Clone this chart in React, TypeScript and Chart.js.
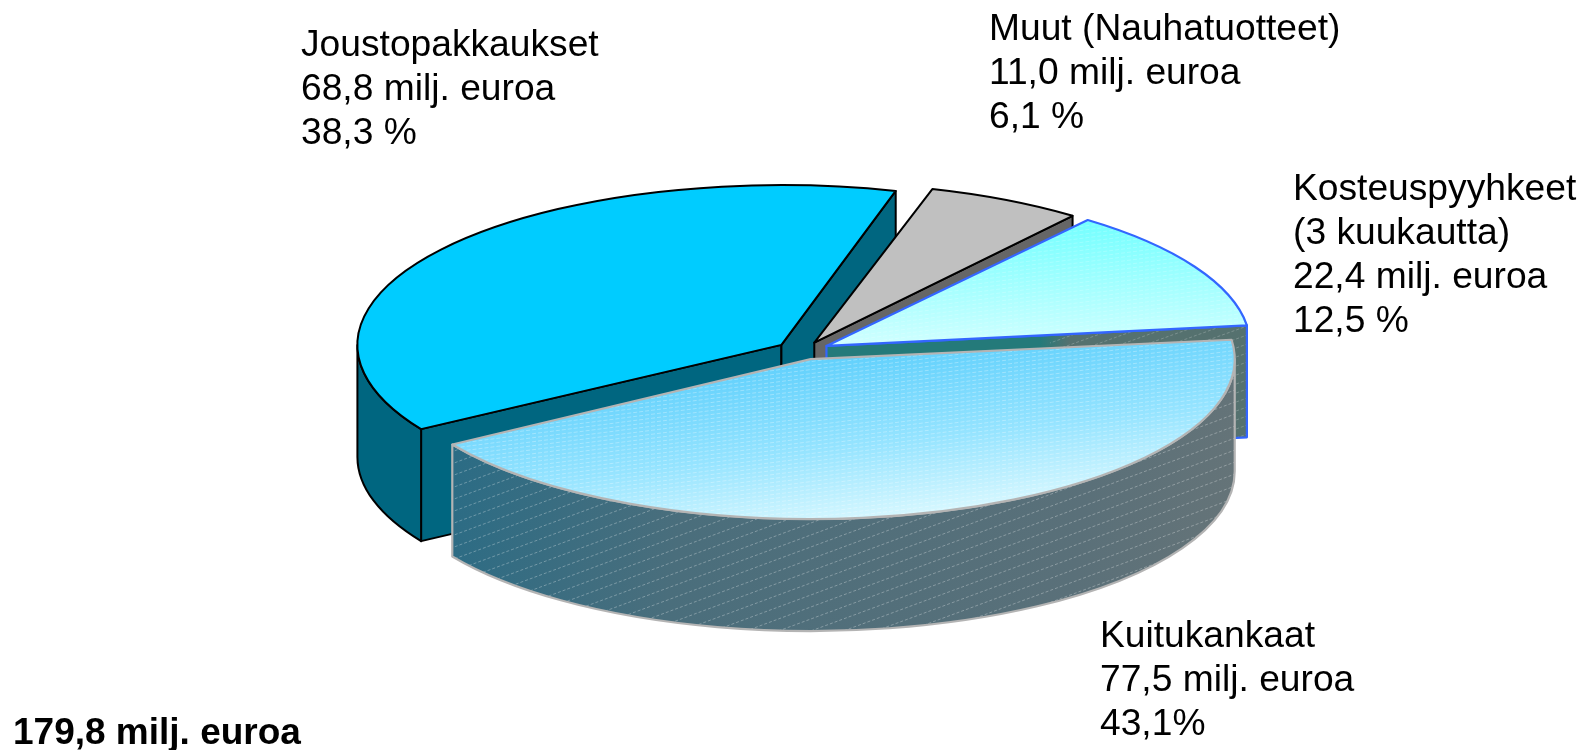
import React, { useEffect, useRef } from "react";
import { Chart, registerables } from "chart.js";

Chart.register(...registerables);

const categories = ["Joustopakkaukset", "Muut (Nauhatuotteet)", "Kosteuspyyhkeet", "Kuitukankaat"];
const values = [68.8, 11.0, 22.4, 77.5];
const labelTexts = [
  ["Joustopakkaukset", "68,8 milj. euroa", "38,3 %"],
  ["Muut (Nauhatuotteet)", "11,0 milj. euroa", "6,1 %"],
  ["Kosteuspyyhkeet", "(3 kuukautta)", "22,4 milj. euroa", "12,5 %"],
  ["Kuitukankaat", "77,5 milj. euroa", "43,1%"],
];
const totalText = "179,8 milj. euroa";

const labelAnchors = [
  [301, 56],
  [989, 40],
  [1293, 200],
  [1100, 647],
];
const LINE_H = 44;
const FONT = '"Liberation Sans", Arial, sans-serif';

const SQUASH = 0.377;
const DEPTH = 112;
const CY = 351;
const RADIUS = 424;
const sliceOffsets = [27, 25, 27, 23];

const outlineColors = ["#000000", "#000000", "#3366FF", "#B4B4B4"];
const outlineWidths = [2, 2, 2.2, 2.2];
const sideColors = ["#006680", "#666666", "#247A7A", "#53707A"];

function toChartY(y: number) {
  return CY + (y - CY) / SQUASH;
}

function hatch(ctx: CanvasRenderingContext2D, slope: number, gap: number, color: string, dash: number[]) {
  ctx.strokeStyle = color;
  ctx.lineWidth = 1;
  ctx.setLineDash(dash);
  for (let y = 100; y < 1700; y += gap) {
    ctx.beginPath();
    ctx.moveTo(300, y);
    ctx.lineTo(1300, y + slope * 1000);
    ctx.stroke();
  }
  ctx.setLineDash([]);
}

const pie3d = {
  id: "pie3d",
  beforeDatasetsDraw(chart: any) {
    const ctx: CanvasRenderingContext2D = chart.ctx;
    const arcs = chart.getDatasetMeta(0).data as any[];
    arcs.forEach((arc, i) => {
      const off = (arc.options.offset || 0) / 4;
      const mid = (arc.startAngle + arc.endAngle) / 2;
      const grow = off * (1 - Math.sin(Math.min(Math.PI, arc.circumference)));
      const base = arc.outerRadius;
      const R = RADIUS;
      const inset = grow / (2 * Math.PI * R);
      const a0 = arc.startAngle + inset;
      const a1 = arc.endAngle - inset;
      const tx = arc.x + Math.cos(mid) * off;
      const ty = CY + (arc.y - CY + Math.sin(mid) * off) * SQUASH;
      const ry = R * SQUASH;
      const pt = (a: number) => [tx + R * Math.cos(a), ty + ry * Math.sin(a)];
      const outline = outlineColors[i];
      const lw = outlineWidths[i];

      ctx.save();
      ctx.lineJoin = "round";
      ctx.strokeStyle = outline;
      ctx.lineWidth = lw;

      // straight cut faces that turn towards the viewer
      const face = (a: number) => {
        const [px, py] = pt(a);
        ctx.beginPath();
        ctx.moveTo(tx, ty);
        ctx.lineTo(px, py);
        ctx.lineTo(px, py + DEPTH);
        ctx.lineTo(tx, ty + DEPTH);
        ctx.closePath();
      };
      const faces: number[] = [];
      if (Math.cos(a0) < 0) faces.push(a0);
      if (Math.cos(a1) > 0) faces.push(a1);
      faces.forEach((a) => {
        face(a);
        ctx.fillStyle = sideColors[i];
        if (i === 2) {
          const g = ctx.createLinearGradient(1040, 0, 1070, 0);
          g.addColorStop(0, "#247A7A");
          g.addColorStop(1, "#55716F");
          ctx.fillStyle = g;
        }
        ctx.fill();
        if (i === 2) {
          ctx.save();
          face(a);
          ctx.clip();
          ctx.beginPath();
          ctx.rect(1050, 300, 220, 160);
          ctx.clip();
          hatch(ctx, -0.36, 9, "rgba(255,255,255,0.22)", [3, 2]);
          ctx.restore();
        }
        face(a);
        ctx.stroke();
      });

      // curved outer wall, front half only
      [0, 2 * Math.PI].forEach((turn) => {
        const b0 = Math.max(a0 + turn, 0);
        const b1 = Math.min(a1 + turn, Math.PI);
        if (b1 <= b0) return;
        const wall = () => {
          ctx.beginPath();
          ctx.ellipse(tx, ty, R, ry, 0, b0, b1);
          ctx.ellipse(tx, ty + DEPTH, R, ry, 0, b1, b0, true);
          ctx.closePath();
        };
        wall();
        if (i === 3) {
          const g = ctx.createLinearGradient(453, 440, 1237, 560);
          g.addColorStop(0, "#2B6C85");
          g.addColorStop(0.3, "#4A6E7C");
          g.addColorStop(0.8, "#5A7079");
          g.addColorStop(1, "#667478");
          ctx.fillStyle = g;
        } else {
          ctx.fillStyle = sideColors[i];
        }
        ctx.fill();
        if (i === 3) {
          ctx.save();
          wall();
          ctx.clip();
          hatch(ctx, -0.37, 12, "rgba(255,255,255,0.3)", [3, 2]);
          ctx.restore();
        }
        wall();
        ctx.stroke();
      });

      // top face: the library's own arc, under a squashing transform.
      // The arc widens itself by `grow` when exploded, so it is drawn that much smaller.
      ctx.save();
      ctx.translate(0, CY);
      ctx.scale(1, SQUASH);
      ctx.translate(0, -CY);
      arc.outerRadius = base - grow;
      arc.draw(ctx);
      arc.outerRadius = base;
      ctx.restore();

      const topPath = () => {
        ctx.beginPath();
        ctx.moveTo(tx, ty);
        const [sx, sy] = pt(a0);
        ctx.lineTo(sx, sy);
        ctx.ellipse(tx, ty, R, ry, 0, a0, a1);
        ctx.closePath();
      };
      if (i >= 2) {
        ctx.save();
        topPath();
        ctx.clip();
        hatch(ctx, -0.13, 4, i === 3 ? "rgba(255,255,255,0.3)" : "rgba(255,255,255,0.2)", [4, 2]);
        ctx.restore();
      }
      ctx.strokeStyle = outline;
      ctx.lineWidth = lw;
      topPath();
      ctx.stroke();
      ctx.restore();
    });
    return false;
  },
  afterDraw(chart: any) {
    const ctx: CanvasRenderingContext2D = chart.ctx;
    ctx.save();
    ctx.fillStyle = "#000000";
    ctx.textAlign = "left";
    ctx.textBaseline = "alphabetic";
    ctx.font = `37.2px ${FONT}`;
    labelTexts.forEach((lines, i) => {
      const [x, y] = labelAnchors[i];
      lines.forEach((t, j) => ctx.fillText(t, x, y + j * LINE_H));
    });
    ctx.font = `bold 37px ${FONT}`;
    ctx.fillText(totalText, 13, 744);
    ctx.restore();
  },
};

export default function App() {
  const ref = useRef<HTMLCanvasElement | null>(null);
  useEffect(() => {
    document.body.style.margin = "0";
    const canvas = ref.current!;
    const c = canvas.getContext("2d")!;
    const kost = c.createLinearGradient(0, toChartY(222), 0, toChartY(345));
    kost.addColorStop(0, "#70FFFF");
    kost.addColorStop(1, "#CCFFFF");
    const kuitu = c.createLinearGradient(800, toChartY(350), 924, toChartY(350) + 414);
    kuitu.addColorStop(0, "#60D0FC");
    kuitu.addColorStop(0.55, "#96E4FF");
    kuitu.addColorStop(1, "#D8F8FF");
    const chart = new Chart(canvas, {
      type: "pie",
      data: {
        labels: categories,
        datasets: [
          {
            data: values,
            backgroundColor: ["#00CCFF", "#C0C0C0", kost, kuitu],
            borderWidth: 0,
            offset: sliceOffsets.map((d) => d * 4),
            hoverOffset: 0,
          },
        ],
      },
      plugins: [pie3d],
      options: {
        animation: false,
        responsive: false,
        events: [],
        rotation: -122,
        radius: RADIUS,
        layout: { padding: { left: 10, bottom: 48 } },
        plugins: { legend: { display: false }, tooltip: { enabled: false } },
      },
    } as any);
    return () => chart.destroy();
  }, []);
  return (
    <div style={{ position: "absolute", left: 0, top: 0, width: 1596, height: 750 }}>
      <canvas ref={ref} width={1596} height={750} style={{ display: "block", width: 1596, height: 750 }} />
    </div>
  );
}
